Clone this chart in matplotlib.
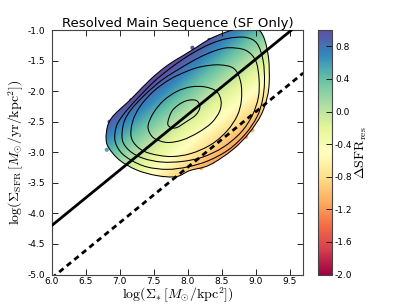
import numpy as np
import matplotlib
matplotlib.use("Agg")
import matplotlib.pyplot as plt
from matplotlib.path import Path
from matplotlib.patches import PathPatch

plt.rcParams['mathtext.fontset'] = 'cm'
plt.rcParams['lines.scale_dashes'] = False
plt.rcParams['axes.unicode_minus'] = False

# main sequence fit and the offset line below it
ms_slope = 0.907
ms_intercept = -9.642
offset_line = -0.86

# outline of the point cloud (outermost density contour)
outer_x = [6.80, 6.82, 6.88, 6.98, 7.10, 7.22, 7.46, 7.70, 7.93, 8.12, 8.32, 8.55, 8.80,
           9.00, 9.12, 9.19, 9.20, 9.17, 9.08, 8.90, 8.66, 8.32, 8.03, 7.83, 7.54,
           7.25, 7.00, 6.84]
outer_y = [-2.78, -2.58, -2.44, -2.32, -2.20, -2.07, -1.80, -1.58, -1.42, -1.29, -1.15, -1.04, -0.96,
           -0.96, -1.12, -1.46, -1.85, -2.10, -2.39, -2.69, -2.96, -3.21, -3.30, -3.40, -3.38,
           -3.29, -3.13, -2.93]

c2_x = [6.93, 6.95, 7.03, 7.14, 7.27, 7.52, 7.80, 8.07, 8.33, 8.58, 8.85, 9.02, 9.11,
        9.13, 9.10, 9.02, 8.85, 8.60, 8.30, 8.00, 7.70, 7.40, 7.17, 7.01]
c2_y = [-2.80, -2.58, -2.42, -2.27, -2.11, -1.83, -1.58, -1.38, -1.23, -1.14, -1.12, -1.22, -1.50,
        -1.85, -2.15, -2.42, -2.70, -2.96, -3.14, -3.24, -3.28, -3.24, -3.13, -2.99]

c3_x = [7.04, 7.06, 7.17, 7.38, 7.62, 7.90, 8.17, 8.40, 8.60, 8.85, 9.00, 9.05,
        9.04, 8.95, 8.78, 8.52, 8.22, 7.92, 7.62, 7.35, 7.15]
c3_y = [-2.80, -2.52, -2.30, -2.05, -1.82, -1.62, -1.45, -1.34, -1.29, -1.33, -1.50, -1.80,
        -2.10, -2.40, -2.68, -2.92, -3.08, -3.15, -3.16, -3.10, -2.98]

c4_x = [7.17, 7.19, 7.30, 7.50, 7.75, 8.00, 8.20, 8.46, 8.68, 8.78, 8.79, 8.73,
        8.58, 8.35, 8.05, 7.75, 7.45, 7.27]
c4_y = [-2.75, -2.50, -2.25, -2.00, -1.80, -1.67, -1.60, -1.57, -1.63, -1.85, -2.15, -2.40,
        -2.65, -2.87, -3.02, -3.07, -3.02, -2.92]

c5_x = [7.42, 7.50, 7.65, 7.85, 8.05, 8.25, 8.42, 8.49, 8.47, 8.35, 8.15, 7.92,
        7.70, 7.52, 7.44]
c5_y = [-2.55, -2.35, -2.15, -2.00, -1.93, -1.93, -2.00, -2.15, -2.33, -2.52, -2.68, -2.80,
        -2.84, -2.78, -2.68]

c6_x = [7.71, 7.78, 7.95, 8.12, 8.18, 8.12, 7.98, 7.83, 7.73]
c6_y = [-2.50, -2.31, -2.17, -2.15, -2.26, -2.39, -2.50, -2.60, -2.58]

contours = [(outer_x, outer_y), (c2_x, c2_y), (c3_x, c3_y),
            (c4_x, c4_y), (c5_x, c5_y), (c6_x, c6_y)]

# stray spaxels outside the outer contour
pts_x = [6.81, 6.85, 7.17, 8.07, 8.32, 8.86, 8.95, 8.68, 8.37, 8.20, 7.93, 7.63, 9.07]
pts_y = [-2.96, -2.50, -2.15, -1.29, -1.16, -2.75, -2.64, -2.91, -3.16, -3.26, -3.29, -3.39, -2.28]

cbar_ticks = [-2.0, -1.6, -1.2, -0.8, -0.4, 0.0, 0.4, 0.8]
vmin, vmax = -2.0, 1.0


def main_seq(x):
    return ms_slope * np.asarray(x) + ms_intercept


def smooth_closed(xs, ys):
    # closed curve through the vertices, drawn as cubic bezier segments
    p = np.column_stack([xs, ys])
    n = len(p)
    verts = [p[0]]
    codes = [Path.MOVETO]
    for i in range(n):
        p0, p1, p2, p3 = p[i - 1], p[i], p[(i + 1) % n], p[(i + 2) % n]
        verts += [p1 + (p2 - p0) / 6.0, p2 - (p3 - p1) / 6.0, p2]
        codes += [Path.CURVE4] * 3
    return Path(verts, codes)


fig = plt.figure(figsize=(4.07, 3.05), dpi=100)
ax = fig.add_axes([0.127, 0.1, 0.618, 0.8016])
cax = fig.add_axes([0.782, 0.1, 0.034, 0.8016])

# colour of each spaxel = offset from the main sequence
gx, gy = np.meshgrid(np.linspace(6.0, 9.7, 400), np.linspace(-5.0, -1.0, 400))
resid = gy - main_seq(gx)
im = ax.imshow(resid, extent=(6.0, 9.7, -5.0, -1.0), origin='lower', aspect='auto',
               cmap='Spectral', vmin=vmin, vmax=vmax, interpolation='bilinear', zorder=1)
clip = PathPatch(smooth_closed(outer_x, outer_y), transform=ax.transData,
                 facecolor='none', edgecolor='none')
ax.add_patch(clip)
im.set_clip_path(clip)

pts_c = np.array(pts_y) - main_seq(pts_x)
ax.scatter(pts_x, pts_y, c=pts_c, cmap='Spectral', vmin=vmin, vmax=vmax,
           s=9, edgecolors='none', zorder=2)

for cx, cy in contours:
    ax.add_patch(PathPatch(smooth_closed(cx, cy), facecolor='none',
                           edgecolor='black', lw=0.75, zorder=3))

xl = np.array([6.0, 9.7])
ax.plot(xl, main_seq(xl), color='black', lw=2, zorder=4)
ax.plot(xl, main_seq(xl) + offset_line, color='black', lw=2, dashes=(4, 3), zorder=4)

ax.set_xlim(6.0, 9.7)
ax.set_ylim(-5.0, -1.0)
ax.set_xticks(np.arange(6.0, 9.51, 0.5))
ax.set_yticks(np.arange(-5.0, -0.99, 0.5))
ax.tick_params(direction='in', top=True, right=True, labelsize=6.5, length=4, width=0.6)
ax.tick_params(axis='x', pad=2)
ax.tick_params(axis='y', pad=5)
for s in ax.spines.values():
    s.set_color('#444444')

ax.set_title('Resolved Main Sequence (SF Only)', fontsize=9.5, pad=2)
ax.set_xlabel(r'$\log(\Sigma_{*}\,[M_{\odot}/\mathrm{kpc}^{2}])$', fontsize=10, labelpad=0)
ax.set_ylabel(r'$\log(\Sigma_{\rm SFR}\,[M_{\odot}/\mathrm{yr}/\mathrm{kpc}^{2}])$', fontsize=10, labelpad=1)

cb = fig.colorbar(im, cax=cax, ticks=cbar_ticks)
cb.ax.tick_params(direction='in', labelsize=6.5, length=4, width=0.6, pad=2)
cb.outline.set_edgecolor('#444444')
cb.set_label(r'$\Delta\mathrm{SFR}_{\rm res}$', fontsize=10, labelpad=1)

fig.savefig('out.png', dpi=100)
